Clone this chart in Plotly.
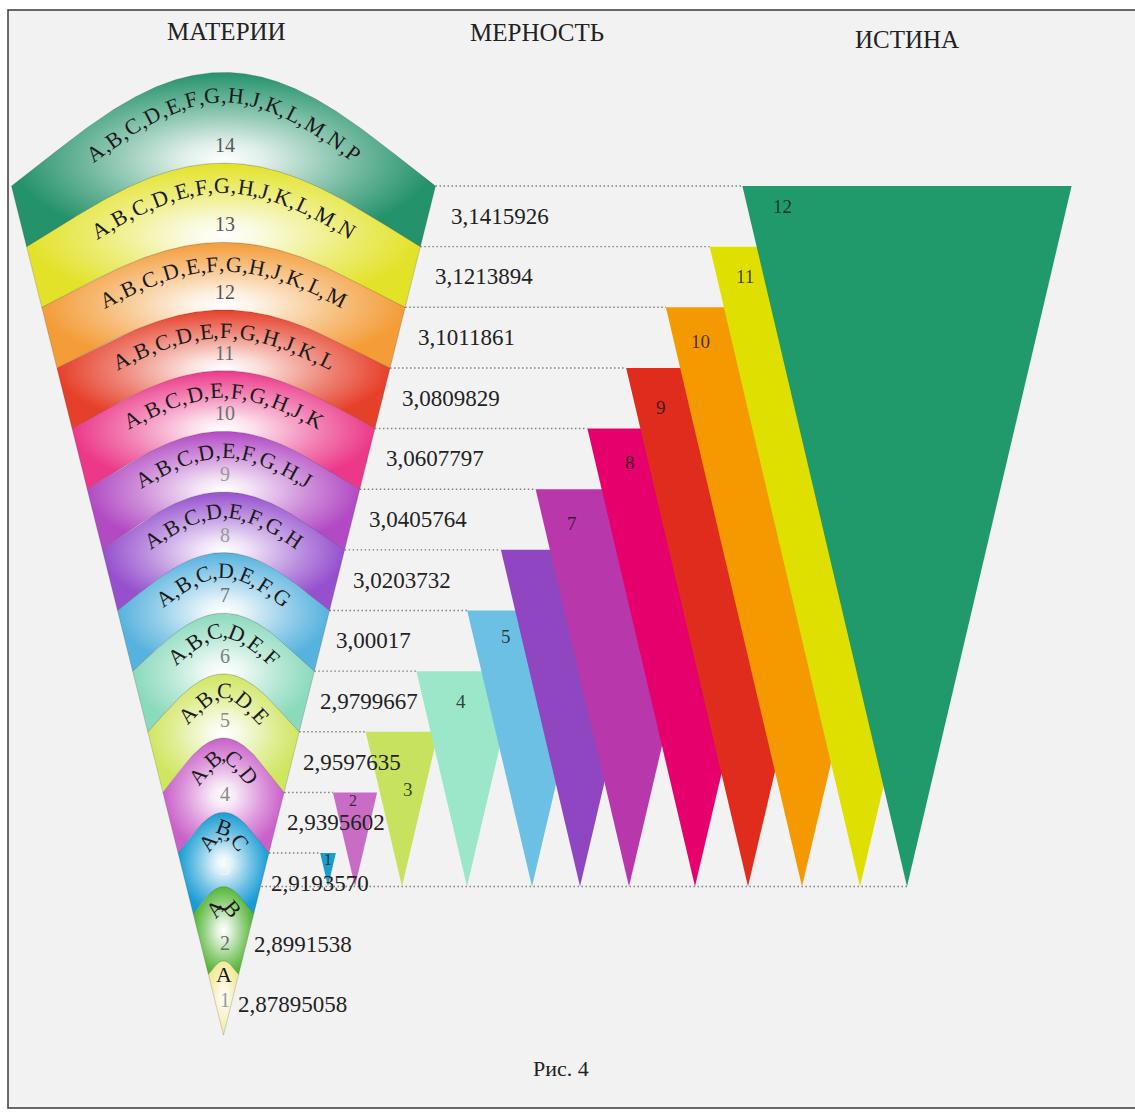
import numpy as np
import plotly.graph_objects as go

# ---------------- data ----------------
MATTER_LETTERS = ["A", "B", "C", "D", "E", "F", "G", "H", "J", "K", "L", "M", "N", "P"]
MATTER_NUMBERS = [1, 2, 3, 4, 5, 6, 7, 8, 9, 10, 11, 12, 13, 14]
MERNOST_VALUES = [2.87895058, 2.8991538, 2.9193570, 2.9395602, 2.9597635, 2.9799667, 3.00017,
                  3.0203732, 3.0405764, 3.0607797, 3.0809829, 3.1011861, 3.1213894, 3.1415926]
MERNOST_LABELS = ["2,87895058", "2,8991538", "2,9193570", "2,9395602", "2,9597635", "2,9799667",
                  "3,00017", "3,0203732", "3,0405764", "3,0607797", "3,0809829", "3,1011861",
                  "3,1213894", "3,1415926"]
TRUTH_NUMBERS = [1, 2, 3, 4, 5, 6, 7, 8, 9, 10, 11, 12]
TRUTH_LABELS = ["1", "2", "3", "4", "5", "", "7", "8", "9", "10", "11", "12"]
TITLES = ["МАТЕРИИ", "МЕРНОСТЬ", "ИСТИНА"]
CAPTION = "Рис. 4"

# ---------------- styles / layout ----------------
BAND_COLORS = ["#f4ea98", "#56b63a", "#189cd4", "#ca60ca", "#d0e660", "#8adabc", "#56b2de",
               "#9650ce", "#b24ac4", "#ec3888", "#e6402a", "#f49c38", "#e2e228", "#24926a"]
NUMBER_COLORS = ["#9a9a9a", "#6a6a6a", "#f4f4f4", "#8a8a8a", "#8a8a8a", "#808080", "#707070",
                 "#9a9a9a", "#9a9a9a", "#707070", "#6a6a6a", "#555555", "#555555", "#5a5a5a"]
TRUTH_COLORS = ["#1a9ccc", "#c86cc6", "#c6e25e", "#9ce6ca", "#6cc0e4", "#9046c0", "#b838ac",
                "#e6006c", "#e02c1c", "#f49a00", "#e0e000", "#209a6a"]
TRI_APEX_X = [328, 355, 402, 467, 532, 580, 629, 695, 748, 802, 860, 907]
TRI_LABEL_DX = [0, -2, 6, -6, -26, 0, -57, -65, -87, -102, -115, -125]
TRI_LABEL_DY = [6, 8, 58, 30, 26, 0, 34, 34, 40, 34, 30, 20]
TRI_RATIO = 0.235
W, H = 1135, 1120
FAN_TOP_PX, FAN_APEX_PX = 186.0, 1035.0
FAN_CX, FAN_HW_TOP = 223.5, 212.0
SERIF = "Liberation Serif, Times New Roman, serif"
ADV = {"A": .722, "B": .667, "C": .667, "D": .722, "E": .611, "F": .556, "G": .722, "H": .722,
       "J": .389, "K": .722, "L": .611, "M": .889, "N": .722, "P": .556, ",": .25}
LETTER_FS = 22
LETTER_SPACING = 1.1

# ---------------- scales ----------------
v = np.array(MERNOST_VALUES)
tops = np.empty(len(v))
tops[:-1] = (v[:-1] + v[1:]) / 2
tops[-1] = v[-1] + (v[-1] - v[-2]) / 2
bottom0 = v[0] - (v[1] - v[0]) / 2
S = (FAN_APEX_PX - FAN_TOP_PX) / (tops[-1] - bottom0)
VTOP = tops[-1] + FAN_TOP_PX / S
VBOT = VTOP - H / S


def to_px(val):
    return (VTOP - val) * S


def to_v(px):
    return VTOP - np.asarray(px) / S


def half_w(ypx):
    return FAN_HW_TOP * (FAN_APEX_PX - ypx) / (FAN_APEX_PX - FAN_TOP_PX)


def bump(w):
    return min(0.45 * w, 58.0) + 0.0063 * max(0.0, w - 330.0) ** 2


def curve(L, n=240):
    hw = half_w(L)
    xs = np.linspace(FAN_CX - hw, FAN_CX + hw, n)
    t = (xs - FAN_CX) / hw if hw > 0 else np.zeros(n)
    f = t ** 2 * (1 + 0.3 * (1 - t ** 2))
    ys = L - bump(2 * hw) * (1 - f)
    return xs, ys


def mix(c, w_amt):
    c = c.lstrip("#")
    r, g, b = int(c[0:2], 16), int(c[2:4], 16), int(c[4:6], 16)
    r = int(r + (255 - r) * w_amt)
    g = int(g + (255 - g) * w_amt)
    b = int(b + (255 - b) * w_amt)
    return f"rgb({r},{g},{b})"


fig = go.Figure()
annotations = []
DOT = dict(color="#808080", width=1.4, dash="1.5px,2.5px")

# ---------------- dotted level lines ----------------
x2, y2 = curve(to_px(tops[1]))
apex_px = float(y2.min())
for j in range(len(TRUTH_NUMBERS)):
    ltop = to_px(tops[j + 2])
    hw_t = TRI_RATIO * (apex_px - ltop)
    x0 = FAN_CX + half_w(ltop)
    x1 = TRI_APEX_X[j] - hw_t
    fig.add_trace(go.Scatter(x=[x0, x1], y=to_v([ltop, ltop]), mode="lines", line=DOT,
                             hoverinfo="skip", showlegend=False))
fig.add_trace(go.Scatter(x=[FAN_CX + 6, TRI_APEX_X[-1]], y=to_v([apex_px, apex_px]),
                         mode="lines", line=DOT, hoverinfo="skip", showlegend=False))

# ---------------- fan bands ----------------
peaks = []
for k in range(len(MATTER_NUMBERS)):
    Lt = to_px(tops[k])
    xt, yt = curve(Lt)
    if k == 0:
        xb, yb = np.array([FAN_CX]), np.array([FAN_APEX_PX])
    else:
        xb, yb = curve(to_px(tops[k - 1]))
    px_x = np.concatenate([xt, xb[::-1], xt[:1]])
    px_y = np.concatenate([yt, yb[::-1], yt[:1]])
    col = BAND_COLORS[k]
    fig.add_trace(go.Scatter(
        x=px_x, y=to_v(px_y), mode="lines", fill="toself",
        line=dict(color="rgba(60,60,60,0.35)", width=0.6),
        fillcolor=col,
        fillgradient=dict(type="radial",
                          colorscale=[[0, "#ffffff"], [0.2, mix(col, 0.85)],
                                      [0.65, mix(col, 0.35)], [1, col]]),
        hoverinfo="skip", showlegend=False))
    peaks.append(float(yt.min()))

# ---------------- letters along arcs + band numbers ----------------
for k in range(len(MATTER_NUMBERS)):
    Lt = to_px(tops[k])
    hw = half_w(Lt)
    h = bump(2 * hw)
    d = 13 + 10 * (hw / FAN_HW_TOP)
    r_peak = hw ** 2 / (2 * h * 1.3)
    a = min(1.0, 0.85 * r_peak / d)
    xt, yt = curve(Lt, 800)
    dx = np.gradient(xt)
    dy = np.gradient(yt)
    nrm = np.hypot(dx, dy)
    tx, ty = dx / nrm, dy / nrm
    cx = xt - a * d * ty
    cy = yt + d * (0.5 + 0.5 * tx)
    seg = np.hypot(np.diff(cx), np.diff(cy))
    s = np.concatenate([[0], np.cumsum(seg)])
    s_mid = np.interp(FAN_CX, cx, s)
    gx = np.gradient(cx)
    gy = np.gradient(cy)
    ang = np.degrees(np.arctan2(gy, gx))
    chars = list(",".join(MATTER_LETTERS[:k + 1]))
    advs = np.array([ADV[c] for c in chars]) * LETTER_FS * LETTER_SPACING
    total = advs.sum()
    pos = s_mid - total / 2 + np.cumsum(advs) - advs / 2
    for ch, sp in zip(chars, pos):
        ax = float(np.interp(sp, s, cx))
        ay = float(np.interp(sp, s, cy))
        aa = float(np.interp(sp, s, ang))
        annotations.append(dict(x=ax, y=float(to_v(ay)), xref="x", yref="y", text=ch,
                                showarrow=False, textangle=aa, xanchor="center",
                                yanchor="middle",
                                font=dict(family=SERIF, size=LETTER_FS, color="#1a1a1a")))
    if k == 0:
        ny = (peaks[0] + FAN_APEX_PX) / 2 + 2
    else:
        ny = peaks[k - 1] - 18
    annotations.append(dict(x=FAN_CX + 1, y=float(to_v(ny)), xref="x", yref="y",
                            text=str(MATTER_NUMBERS[k]), showarrow=False,
                            xanchor="center", yanchor="middle",
                            font=dict(family=SERIF, size=20, color=NUMBER_COLORS[k])))

# ---------------- value labels ----------------
for k, lab in enumerate(MERNOST_LABELS):
    ypx = to_px(v[k])
    hw = half_w(ypx)
    x = FAN_CX + hw + 4 + 18 * (hw / FAN_HW_TOP)
    annotations.append(dict(x=x, y=v[k], xref="x", yref="y", text=lab, showarrow=False,
                            xanchor="left", yanchor="middle",
                            font=dict(family=SERIF, size=23, color="#222222")))

# ---------------- truth triangles ----------------
for j in range(len(TRUTH_NUMBERS)):
    ltop = to_px(tops[j + 2])
    hgt = apex_px - ltop
    hw_t = TRI_RATIO * hgt
    ax = TRI_APEX_X[j]
    xs = [ax - hw_t, ax + hw_t, ax, ax - hw_t]
    ys = [ltop, ltop, apex_px, ltop]
    fig.add_trace(go.Scatter(x=xs, y=to_v(ys), mode="lines", fill="toself",
                             fillcolor=TRUTH_COLORS[j], line=dict(width=0),
                             hoverinfo="skip", showlegend=False))
    if TRUTH_LABELS[j]:
        lx = ax + TRI_LABEL_DX[j]
        ly = ltop + TRI_LABEL_DY[j]
        annotations.append(dict(x=lx, y=float(to_v(ly)), xref="x", yref="y",
                                text=TRUTH_LABELS[j], showarrow=False,
                                xanchor="center", yanchor="middle",
                                font=dict(family=SERIF, size=19 if hgt > 120 else 16,
                                          color="rgba(20,20,20,0.8)")))

# ---------------- titles ----------------
for txt, (tx_, ty_) in zip(TITLES, [(226, 31), (537, 32), (907, 40)]):
    annotations.append(dict(x=tx_ / W, y=1 - ty_ / H, xref="paper", yref="paper", text=txt,
                            showarrow=False, xanchor="center", yanchor="middle",
                            font=dict(family=SERIF, size=25, color="#222222")))
annotations.append(dict(x=561 / W, y=1 - 1068 / H, xref="paper", yref="paper", text=CAPTION,
                        showarrow=False, xanchor="center", yanchor="middle",
                        font=dict(family=SERIF, size=22, color="#222222")))

fig.update_layout(
    width=W, height=H, margin=dict(l=0, r=0, t=0, b=0),
    paper_bgcolor="white", plot_bgcolor="rgba(0,0,0,0)",
    xaxis=dict(range=[0, W], visible=False, fixedrange=True),
    yaxis=dict(range=[VBOT, VTOP], visible=False, fixedrange=True),
    showlegend=False, annotations=annotations,
    shapes=[dict(type="rect", xref="paper", yref="paper", x0=8 / W, x1=1.02,
                 y0=1 - 1108 / H, y1=1 - 10 / H, fillcolor="#f2f2f2",
                 line=dict(color="#3a3a3a", width=1.5), layer="below")],
)

fig.write_html("out.html", config={"displayModeBar": False},
               post_script="document.body.style.margin='0';")
